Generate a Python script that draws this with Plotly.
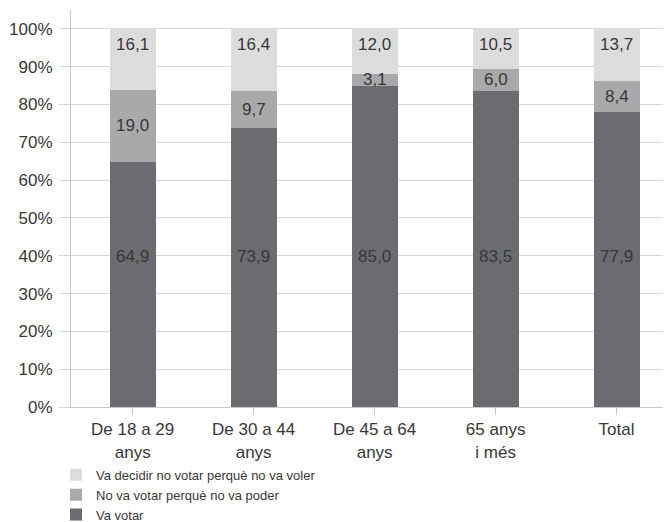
import plotly.graph_objects as go

categories = ["De 18 a 29<br>anys", "De 30 a 44<br>anys", "De 45 a 64<br>anys", "65 anys<br>i més", "Total"]
va_votar = [64.9, 73.9, 85.0, 83.5, 77.9]
no_poder = [19.0, 9.7, 3.1, 6.0, 8.4]
no_voler = [16.1, 16.4, 12.0, 10.5, 13.7]
series_names = ["Va votar", "No va votar perquè no va poder", "Va decidir no votar perquè no va voler"]
tick_vals = list(range(0, 101, 10))
tick_text = [f"{v}%" for v in tick_vals]

colors = ["#6b6c6f", "#a8a9ab", "#dcdcdd"]
FONT = "Liberation Sans, Arial, sans-serif"
TXT = "#383838"

fig = go.Figure()
for name, vals, col in zip(series_names, [va_votar, no_poder, no_voler], colors):
    fig.add_trace(go.Bar(x=categories, y=vals, name=name, marker=dict(color=col, line=dict(width=0)),
                         width=0.38, hoverinfo="skip"))

def fmt(v):
    return f"{v:.1f}".replace(".", ",")

for i, c in enumerate(categories):
    fig.add_annotation(x=c, y=39.7, text=fmt(va_votar[i]), showarrow=False,
                       font=dict(size=17, color=TXT, family=FONT))
    fig.add_annotation(x=c, y=va_votar[i] + no_poder[i] / 2, text=fmt(no_poder[i]), showarrow=False,
                       font=dict(size=17, color=TXT, family=FONT))
    fig.add_annotation(x=c, y=95.9, text=fmt(no_voler[i]), showarrow=False,
                       font=dict(size=17, color=TXT, family=FONT))

fig.update_layout(
    barmode="stack",
    width=663, height=514,
    margin=dict(l=63, r=0, t=2, b=115, autoexpand=False),
    paper_bgcolor="white", plot_bgcolor="white",
    font=dict(family=FONT, size=17, color=TXT),
    showlegend=True,
    legend=dict(orientation="v", x=-0.025, xanchor="left", y=-0.133, yanchor="top",
                traceorder="reversed", font=dict(size=13, color=TXT, family=FONT),
                itemwidth=30, tracegroupgap=0, bgcolor="rgba(0,0,0,0)"),
    xaxis=dict(range=[-0.51, 4.45], showline=True, linecolor="#c8c8c8", linewidth=1,
               ticks="outside", ticklen=7, tickcolor="#c8c8c8",
               tickfont=dict(size=17, color=TXT, family=FONT), showgrid=False),
    yaxis=dict(range=[0, 105], tickvals=tick_vals, ticktext=tick_text,
               showline=True, linecolor="#c8c8c8", linewidth=1,
               ticks="outside", ticklen=11, tickcolor="#d4d4d4",
               showgrid=True, gridcolor="#d9d9d9", gridwidth=1, zeroline=False,
               tickfont=dict(size=17, color=TXT, family=FONT), ticklabelstandoff=3),
)

fig.write_html("out.html")
